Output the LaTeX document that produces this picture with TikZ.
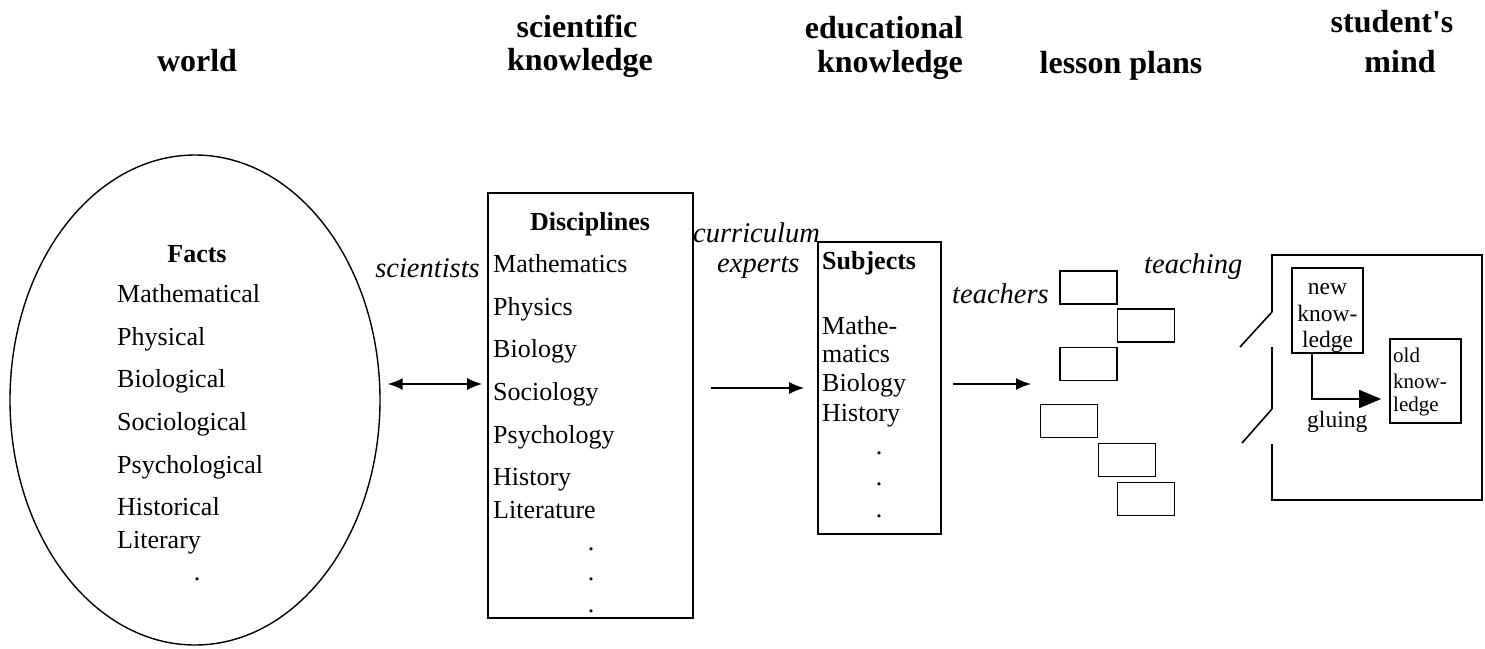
\documentclass[tikz,border=0pt]{standalone}
\usepackage{fontspec}
\setmainfont{Liberation Serif}
\usetikzlibrary{shapes.geometric,arrows.meta}
\begin{document}
\begin{tikzpicture}[x=1pt,y=-1pt,
  thinline/.style={line width=1.6pt},
  thickline/.style={line width=2.6pt},
  txt/.style={inner sep=0pt,anchor=base west,font=\fontsize{26}{30}\selectfont},
  txtc/.style={txt,anchor=base},
  btxt/.style={txt,font=\fontsize{26}{30}\selectfont\bfseries},
  head/.style={inner sep=0pt,anchor=base,font=\fontsize{32}{36}\selectfont\bfseries},
  lbl/.style={inner sep=0pt,anchor=base west,font=\fontsize{28.5}{32}\selectfont\itshape},
  small/.style={inner sep=0pt,anchor=base,font=\fontsize{23.5}{26}\selectfont},
  smaller/.style={inner sep=0pt,anchor=base west,font=\fontsize{21}{24}\selectfont},
  box/.style={draw,thinline,rectangle,inner sep=0pt},
  plan/.style={box,minimum width=57pt,minimum height=33pt},
  arr/.style={thinline,-{Latex[length=15pt,width=12pt]}},
  darr/.style={thinline,{Latex[length=15pt,width=12pt]}-{Latex[length=15pt,width=12pt]}},
  gluearr/.style={thinline,-{Triangle[length=22pt,width=18pt]}}
]
\useasboundingbox (0,0) rectangle (1485,648);

% headers
\node[head] (hworld) at (197,71) {world};
\node[head] (hsci1) at (577,37) {scientific};
\node[head] (hsci2) at (580,70) {knowledge};
\node[head] (hedu1) at (884,38) {educational};
\node[head] (hedu2) at (890,72) {knowledge};
\node[head] (hles) at (1121,73) {lesson plans};
\node[head] (hstu1) at (1392,32) {student\textquotesingle s};
\node[head] (hstu2) at (1400,72) {mind};

% world ellipse
\node[draw,line width=1.4pt,ellipse,minimum width=370pt,minimum height=490pt,inner sep=0pt] (world) at (195,400) {};
\node[btxt,anchor=base] (facts) at (197,262) {Facts};
\node[txt] (f1) at (117,302) {Mathematical};
\node[txt] (f2) at (117,345) {Physical};
\node[txt] (f3) at (117,387) {Biological};
\node[txt] (f4) at (117,430) {Sociological};
\node[txt] (f5) at (117,473) {Psychological};
\node[txt] (f6) at (117,515) {Historical};
\node[txt] (f7) at (117,548) {Literary};
\node[txtc] (fd) at (197,580) {.};

% disciplines
\node[box,minimum width=205pt,minimum height=425pt] (disc) at (590.5,405.5) {};
\node[btxt,anchor=base] (dtitle) at (590,230) {Disciplines};
\node[txt] (d1) at (493,272) {Mathematics};
\node[txt] (d2) at (493,315) {Physics};
\node[txt] (d3) at (493,357) {Biology};
\node[txt] (d4) at (493,400) {Sociology};
\node[txt] (d5) at (493,443) {Psychology};
\node[txt] (d6) at (493,485) {History};
\node[txt] (d7) at (493,518) {Literature};
\node[txtc] (dd1) at (591,550) {.};
\node[txtc] (dd2) at (591,580) {.};
\node[txtc] (dd3) at (591,612) {.};

% subjects
\node[box,minimum width=123pt,minimum height=292pt] (subj) at (879.5,388) {};
\node[btxt] (stitle) at (822,269) {Subjects};
\node[txt] (s1) at (822,334) {Mathe-};
\node[txt] (s2) at (822,362) {matics};
\node[txt] (s3) at (822,391) {Biology};
\node[txt] (s4) at (822,421) {History};
\node[txtc] (sd1) at (879,454) {.};
\node[txtc] (sd2) at (879,485) {.};
\node[txtc] (sd3) at (879,517) {.};

% italic labels
\node[lbl,anchor=base east] (lsci) at (480,277) {scientists};
\node[lbl] (lcur) at (693,242) {curriculum};
\node[lbl] (lexp) at (717,272) {experts};
\node[lbl] (ltea) at (952,303) {teachers};
\node[lbl] (lteach) at (1144,273) {teaching};

% lesson plans
\node[plan] (p1) at (1088.5,287.5) {};
\node[plan] (p2) at (1146,325.5) {};
\node[plan] (p3) at (1088.5,364) {};
\node[plan] (p4) at (1069,421) {};
\node[plan] (p5) at (1127,460) {};
\node[plan] (p6) at (1146,499) {};

% connectors
\coordinate (ay) at (0,384);
\draw[darr] (world.east |- ay) ++(7,0) -- ([xshift=-5pt]disc.west |- ay);
\draw[arr,shorten <=17pt,shorten >=13pt] (disc.east |- subj.west) -- (subj.west);
\coordinate (plansin) at (1031,384);
\draw[arr,shorten <=11pt] (subj.east |- plansin) -- (plansin);

% student's mind
\draw[thickline] (1272,312) -- (1272,255) -- (1482,255) -- (1482,500) -- (1272,500) -- (1272,444);
\draw[thickline] (1272,347) -- (1272,409);
\draw[thinline] (1272,312) -- (1240,347);
\draw[thinline] (1272,409) -- (1242,443);

\node[small] (n1) at (1327.5,294) {new};
\node[small] (n2) at (1327.5,321) {know-};
\node[small] (n3) at (1327.5,347) {ledge};
\node[draw,thickline,rectangle,inner sep=0pt,minimum width=71pt,minimum height=85pt] (newk) at (1327.5,310.5) {};

\node[box,minimum width=71pt,minimum height=84pt] (oldk) at (1425.5,381) {};
\node[smaller] (o1) at (1393,362) {old};
\node[smaller] (o2) at (1393,388) {know-};
\node[smaller] (o3) at (1393,411) {ledge};

\coordinate (gluept) at (1312,399);
\draw[gluearr,shorten >=8pt] (newk.south -| gluept) -- (gluept) -- (oldk.west |- gluept);
\node[small,anchor=base west] (glue) at (1307,427) {gluing};
\end{tikzpicture}
\end{document}
